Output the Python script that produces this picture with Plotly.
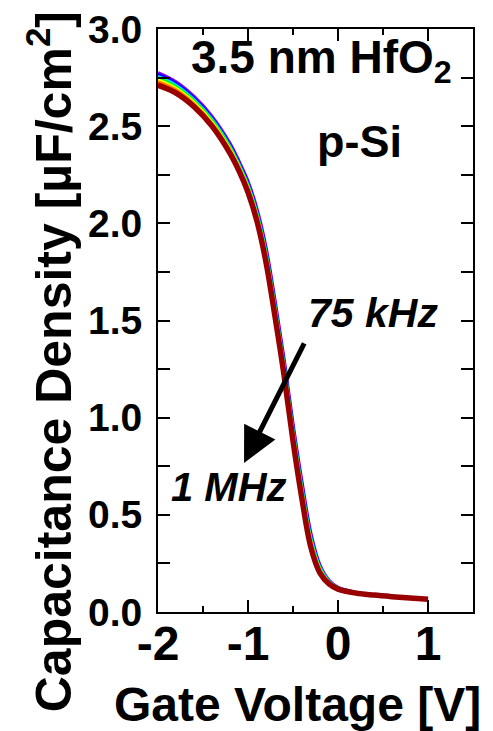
import plotly.graph_objects as go

# Gate voltage grid [V]
gate_voltage = [-2.0, -1.8, -1.6, -1.4, -1.2, -1.1, -1.0, -0.9, -0.8, -0.7, -0.6, -0.5,
                -0.4, -0.3, -0.2, -0.1, 0.0, 0.2, 0.4, 0.6, 0.8, 1.0]

# Capacitance density [uF/cm^2] per frequency (75 kHz -> 1 MHz)
c_75k = [2.775, 2.728, 2.652, 2.550, 2.410, 2.318, 2.215, 2.071, 1.873, 1.600, 1.300, 0.965,
         0.665, 0.400, 0.240, 0.163, 0.126, 0.100, 0.087, 0.079, 0.072, 0.066]
c_100k = [2.766, 2.720, 2.645, 2.543, 2.403, 2.311, 2.207, 2.062, 1.863, 1.589, 1.289, 0.953,
          0.653, 0.390, 0.234, 0.160, 0.125, 0.100, 0.087, 0.079, 0.072, 0.066]
c_200k = [2.756, 2.711, 2.637, 2.536, 2.396, 2.304, 2.199, 2.054, 1.852, 1.577, 1.277, 0.941,
          0.641, 0.380, 0.229, 0.158, 0.124, 0.099, 0.087, 0.079, 0.072, 0.066]
c_300k = [2.747, 2.703, 2.630, 2.529, 2.389, 2.297, 2.191, 2.045, 1.842, 1.566, 1.266, 0.929,
          0.629, 0.370, 0.223, 0.155, 0.123, 0.099, 0.087, 0.079, 0.072, 0.066]
c_400k = [2.738, 2.695, 2.622, 2.521, 2.381, 2.291, 2.184, 2.036, 1.831, 1.554, 1.254, 0.916,
          0.616, 0.360, 0.217, 0.153, 0.121, 0.098, 0.087, 0.079, 0.072, 0.066]
c_500k = [2.729, 2.687, 2.615, 2.514, 2.374, 2.284, 2.176, 2.027, 1.821, 1.543, 1.243, 0.904,
          0.604, 0.350, 0.211, 0.150, 0.120, 0.098, 0.087, 0.079, 0.072, 0.066]
c_750k = [2.719, 2.678, 2.607, 2.507, 2.367, 2.277, 2.168, 2.019, 1.810, 1.531, 1.231, 0.892,
          0.592, 0.340, 0.206, 0.148, 0.119, 0.097, 0.087, 0.079, 0.072, 0.066]
c_1M = [2.710, 2.670, 2.600, 2.500, 2.360, 2.270, 2.160, 2.010, 1.800, 1.520, 1.220, 0.880,
        0.580, 0.330, 0.200, 0.145, 0.118, 0.097, 0.087, 0.079, 0.072, 0.066]

series_names = ["75 kHz", "100 kHz", "200 kHz", "300 kHz", "400 kHz", "500 kHz", "750 kHz", "1 MHz"]
series_values = [c_75k, c_100k, c_200k, c_300k, c_400k, c_500k, c_750k, c_1M]
series_colors = ["#8000ff", "#0000ff", "#00e0ff", "#00ff00", "#ffff00", "#ff8000", "#ff0000", "#990000"]
series_widths = [3.5, 3, 3, 3, 3, 3, 3, 5.5]

x_tick_vals = [-2, -1, 0, 1]
x_tick_text = ["-2", "-1", "0", "1"]

FONT = "Liberation Sans, Arial, sans-serif"

fig = go.Figure()
for name, vals, col, w in zip(series_names, series_values, series_colors, series_widths):
    fig.add_trace(go.Scatter(x=gate_voltage, y=vals, mode="lines", name=name,
                             line=dict(color=col, width=w, shape="spline", smoothing=1.0)))

axis_common = dict(showline=True, linecolor="black", linewidth=2, mirror="allticks",
                   ticks="inside", tickcolor="black", tickwidth=2, showgrid=False,
                   zeroline=False, automargin=False, ticklabeloverflow="allow")

fig.update_xaxes(range=[-2, 1.5], tickvals=x_tick_vals, ticktext=x_tick_text, ticklen=12,
                 tickfont=dict(family=FONT, size=48, color="black", weight="bold"),
                 ticklabelstandoff=-12,
                 minor=dict(dtick=0.5, tick0=-2, ticks="inside", ticklen=6, tickwidth=2, tickcolor="black"),
                 **axis_common)
fig.update_yaxes(range=[0, 3.0], dtick=0.5, tick0=0, ticklen=12, tickformat=".1f",
                 tickfont=dict(family=FONT, size=39, color="black", weight="bold"),
                 ticklabelstandoff=6,
                 minor=dict(dtick=0.25, ticks="inside", ticklen=12, tickwidth=2, tickcolor="black"),
                 **axis_common)

annotations = [
    dict(text="Capacitance Density [µF/cm<sup>2</sup>]", xref="paper", yref="paper",
         x=-0.343, y=0.43, textangle=-90, showarrow=False, xanchor="center", yanchor="middle",
         font=dict(family=FONT, size=50, color="black", weight="bold")),
    dict(text="Gate Voltage [V]", xref="paper", yref="paper", x=0.444, y=-0.158,
         showarrow=False, xanchor="center", yanchor="middle",
         font=dict(family=FONT, size=48, color="black", weight="bold")),
    dict(text="3.5 nm HfO<sub>2</sub>", xref="x", yref="y", x=-1.66, y=2.84,
         showarrow=False, xanchor="left", yanchor="middle",
         font=dict(family=FONT, size=46, color="black", weight="bold")),
    dict(text="p-Si", xref="x", yref="y", x=0.244, y=2.42,
         showarrow=False, xanchor="center", yanchor="middle",
         font=dict(family=FONT, size=45, color="black", weight="bold")),
    dict(text="75 kHz", xref="x", yref="y", x=0.389, y=1.54,
         showarrow=False, xanchor="center", yanchor="middle",
         font=dict(family=FONT, size=41, color="black", weight="bold", style="italic")),
    dict(text="1 MHz", xref="x", yref="y", x=-1.206, y=0.645,
         showarrow=False, xanchor="center", yanchor="middle",
         font=dict(family=FONT, size=40, color="black", weight="bold", style="italic")),
    dict(text="", xref="x", yref="y", x=-1.044, y=0.767, axref="x", ayref="y",
         ax=-0.367, ay=1.39, showarrow=True, arrowhead=2, arrowsize=1.4,
         arrowwidth=5, arrowcolor="black", standoff=0),
]

# the page is drawn with an 8 px body offset, so the margins compensate for it
fig.update_layout(width=493, height=731, margin=dict(l=150, r=28, t=21, b=127),
                  paper_bgcolor="white", plot_bgcolor="white", showlegend=False,
                  annotations=annotations)

fig.write_html("out.html")
